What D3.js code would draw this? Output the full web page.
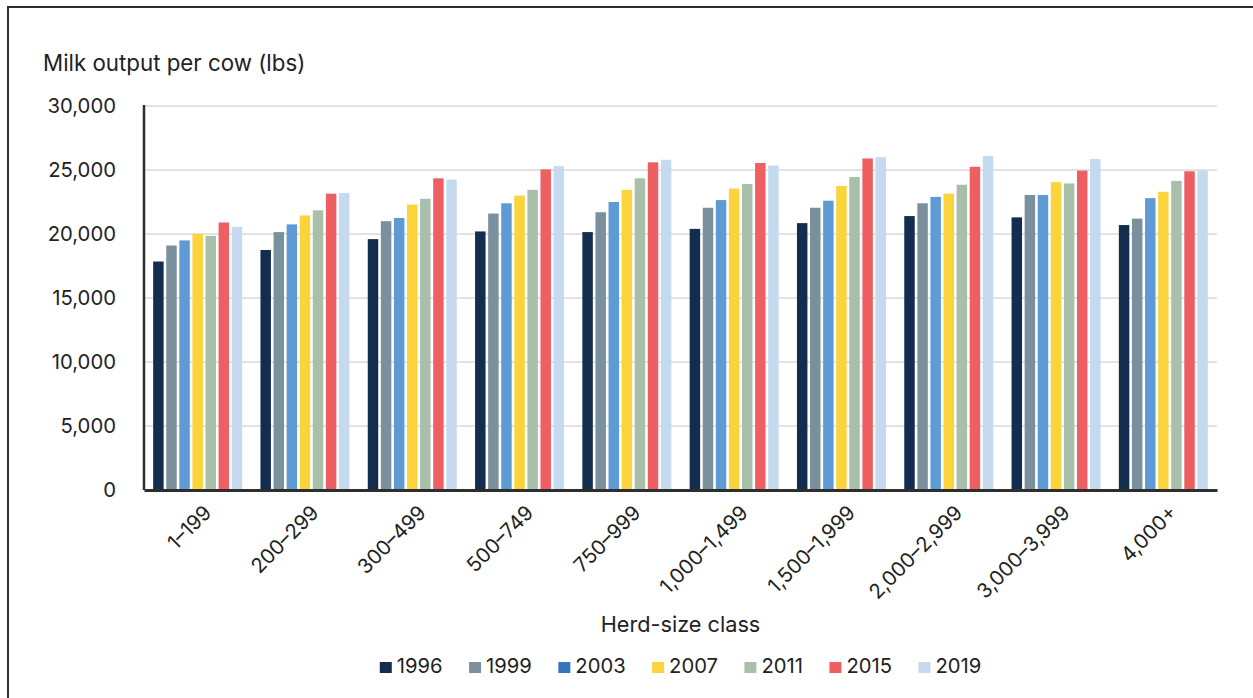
<!DOCTYPE html>
<html>
<head>
<meta charset="utf-8">
<script src="https://cdn.jsdelivr.net/npm/d3@7"></script>
<style>
  html, body { margin: 0; padding: 0; background: #fff; }
  svg { display: block; font-family: Inter, "Noto Sans", sans-serif; }
</style>
</head>
<body>
<svg id="chart" width="1253" height="698"></svg>
<script>
// ---- Data ----
const categories = ["1–199", "200–299", "300–499", "500–749", "750–999", "1,000–1,499", "1,500–1,999", "2,000–2,999", "3,000–3,999", "4,000+"];
const years = ["1996", "1999", "2003", "2007", "2011", "2015", "2019"];
const v1996 = [17850, 18750, 19600, 20200, 20150, 20400, 20850, 21400, 21300, 20700];
const v1999 = [19100, 20150, 21000, 21600, 21700, 22050, 22050, 22400, 23050, 21200];
const v2003 = [19500, 20750, 21250, 22400, 22500, 22650, 22600, 22900, 23050, 22800];
const v2007 = [20000, 21450, 22300, 23000, 23450, 23550, 23750, 23150, 24050, 23300];
const v2011 = [19850, 21850, 22750, 23450, 24350, 23900, 24450, 23850, 23950, 24150];
const v2015 = [20900, 23150, 24350, 25050, 25600, 25550, 25900, 25250, 24950, 24900];
const v2019 = [20550, 23200, 24250, 25300, 25800, 25350, 26000, 26100, 25850, 24950];
const yTicks = [0, 5000, 10000, 15000, 20000, 25000, 30000];
const yTitle = "Milk output per cow (lbs)";
const xTitle = "Herd-size class";

// ---- Styles ----
const barColors = ["#132d4f", "#7a909c", "#5e9bd4", "#fbd43b", "#a8bfa9", "#ee5f61", "#c5daef"];
const legendColors = ["#132d4f", "#7a909c", "#3674be", "#fbd43b", "#a8bfa9", "#ee5f61", "#c5daef"];

const series = [v1996, v1999, v2003, v2007, v2011, v2015, v2019];
const table = categories.map((c, i) => ({ cat: c, vals: years.map((y, j) => ({ year: y, idx: j, value: series[j][i] })) }));

const svg = d3.select("#chart");
const pLeft = 144, pRight = 1217, pTop = 106, pBottom = 490;

// frame
svg.append("rect").attr("x", 8).attr("y", 7).attr("width", 1260).attr("height", 720)
  .attr("fill", "none").attr("stroke", "#2e2e2e").attr("stroke-width", 2);

const x0 = d3.scaleBand().domain(categories).range([pLeft, pRight]).paddingInner(0).paddingOuter(0);
const x1 = d3.scaleBand().domain(years).range([0, x0.bandwidth()]).paddingInner(0.2).paddingOuter(0.7);
const y = d3.scaleLinear().domain([0, 30000]).range([pBottom, pTop]);

// gridlines
svg.append("g").selectAll("line").data(yTicks.filter(d => d > 0)).join("line")
  .attr("x1", pLeft).attr("x2", pRight)
  .attr("y1", d => y(d)).attr("y2", d => y(d))
  .attr("stroke", "#d9d9d9").attr("stroke-width", 1.3);

// y axis labels
const yAxis = svg.append("g").attr("transform", `translate(${pLeft},0)`)
  .call(d3.axisLeft(y).tickValues(yTicks).tickFormat(d3.format(",")).tickSize(0).tickPadding(28));
yAxis.select(".domain").remove();
yAxis.selectAll("text").attr("font-size", 20.3).attr("fill", "#222").attr("font-family", "Inter, sans-serif");

// bars
const groups = svg.append("g").selectAll("g").data(table).join("g")
  .attr("transform", d => `translate(${x0(d.cat)},0)`);
groups.selectAll("rect").data(d => d.vals).join("rect")
  .attr("x", d => x1(d.year))
  .attr("width", x1.bandwidth())
  .attr("y", d => y(d.value))
  .attr("height", d => y(0) - y(d.value))
  .attr("fill", d => barColors[d.idx]);

// y axis line
svg.append("line").attr("x1", pLeft).attr("x2", pLeft).attr("y1", pTop - 1).attr("y2", pBottom)
  .attr("stroke", "#2e2e2e").attr("stroke-width", 2.5);

// x axis
const xAxis = svg.append("g").attr("transform", `translate(0,${pBottom})`)
  .call(d3.axisBottom(x0).tickSize(0));
xAxis.select(".domain").attr("stroke", "#2e2e2e").attr("stroke-width", 3);
xAxis.selectAll("text")
  .attr("font-size", 20.3).attr("fill", "#222").attr("font-family", "Inter, sans-serif")
  .attr("x", 0).attr("y", 0).attr("dy", 0)
  .attr("text-anchor", "end")
  .attr("transform", "translate(15,24) rotate(-45)");

// titles
svg.append("text").attr("x", 43).attr("y", 71).text(yTitle)
  .attr("font-size", 22.3).attr("fill", "#222");
svg.append("text").attr("x", (pLeft + pRight) / 2).attr("y", 632).attr("text-anchor", "middle").text(xTitle)
  .attr("font-size", 21.7).attr("fill", "#222");

// legend
const legend = svg.append("g");
let cx = 0;
years.forEach((yr, i) => {
  const g = legend.append("g").attr("transform", `translate(${cx},0)`);
  g.append("rect").attr("x", 0).attr("y", 662).attr("width", 12).attr("height", 11).attr("fill", legendColors[i]);
  const t = g.append("text").attr("x", 17).attr("y", 673).text(yr).attr("font-size", 20.2).attr("fill", "#222");
  cx += 17 + t.node().getComputedTextLength() + 26.5;
});
const totalW = cx - 26.5;
legend.attr("transform", `translate(${(pLeft + pRight) / 2 - totalW / 2},0)`);
</script>
</body>
</html>
